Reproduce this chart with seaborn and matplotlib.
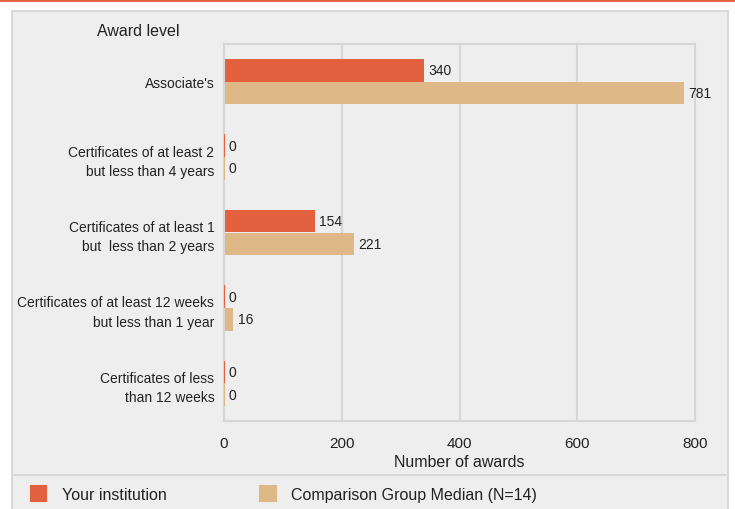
import matplotlib
matplotlib.use('Agg')
import matplotlib.pyplot as plt
from matplotlib.patches import Rectangle
from matplotlib.lines import Line2D
from matplotlib.ticker import MultipleLocator
import pandas as pd
import seaborn as sns

# data
award_levels = [
    "Associate's",
    "Certificates of at least 2\nbut less than 4 years",
    "Certificates of at least 1\nbut  less than 2 years",
    "Certificates of at least 12 weeks\nbut less than 1 year",
    "Certificates of less\nthan 12 weeks",
]
institution = [340, 0, 154, 0, 0]
comparison = [781, 0, 221, 16, 0]
series_names = ["Your institution", "Comparison Group Median (N=14)"]
colors = ["#E3613F", "#DEB887"]

df = pd.DataFrame({
    "level": award_levels * 2,
    "awards": institution + comparison,
    "series": [series_names[0]] * len(award_levels) + [series_names[1]] * len(award_levels),
})

sns.set_style("white")
plt.rcParams['font.family'] = ['Liberation Sans', 'DejaVu Sans']

panel = "#EEEEEE"
line_gray = "#D6D6D6"
text_col = "#222222"

fig = plt.figure(figsize=(7.35, 5.1), dpi=100)
fig.patches.append(Rectangle((12 / 735, -0.01), 716 / 735, 498 / 510 + 0.01,
                             transform=fig.transFigure, fc=panel, ec="#D9D9D9",
                             lw=1.5, zorder=-2))
fig.lines.append(Line2D([12 / 735, 728 / 735], [34 / 510, 34 / 510],
                        transform=fig.transFigure, color="#D9D9D9", lw=1.5, zorder=-1))
fig.lines.append(Line2D([0, 1], [0.998, 0.998], transform=fig.transFigure,
                        color="#E3613F", lw=2, zorder=-1))

ax = fig.add_axes([224 / 735, 88 / 510, 471 / 735, 377 / 510])
sns.barplot(data=df, y="level", x="awards", hue="series", palette=colors,
            orient="h", width=0.6, saturation=1, errorbar=None, linewidth=0, ax=ax)

# zero values still show as a thin sliver next to the axis
for p in ax.patches:
    if p.get_width() == 0:
        p.set_edgecolor(p.get_facecolor())
        p.set_linewidth(1.5)
        p.set_zorder(3)

for c in ax.containers:
    ax.bar_label(c, fmt="%d", padding=3, fontsize=10, color=text_col)

handles, labels = ax.get_legend_handles_labels()
ax.get_legend().remove()

ax.set_facecolor(panel)
ax.set_xlim(0, 800)
ax.xaxis.set_major_locator(MultipleLocator(200))
ax.xaxis.set_minor_locator(MultipleLocator(100))
ax.set_axisbelow(True)
ax.xaxis.grid(True, color=line_gray, lw=1.5)
for s in ax.spines.values():
    s.set_color(line_gray)
    s.set_linewidth(1.5)
ax.tick_params(axis="x", which="both", length=3, color="#C8C8C8", pad=7.5,
               labelsize=11, labelcolor=text_col)
ax.tick_params(axis="y", length=0, pad=7, labelsize=10, labelcolor=text_col)
for t in ax.get_yticklabels():
    t.set_linespacing(1.5)
ax.set_ylabel("")
ax.set_xlabel("Number of awards", fontsize=11.5, color=text_col, labelpad=3)

fig.text(97 / 735, 1 - 31 / 510, "Award level", fontsize=11.5, color=text_col, va="center")

fig.legend(handles, labels, loc="center left", bbox_to_anchor=(31 / 735, 15 / 510),
           ncol=2, frameon=False, fontsize=11.5, handlelength=0.95, handleheight=1.05,
           handletextpad=1.0, columnspacing=5.85, borderpad=0, borderaxespad=0,
           labelcolor=text_col)

fig.savefig("out.png", dpi=100, facecolor="white")
